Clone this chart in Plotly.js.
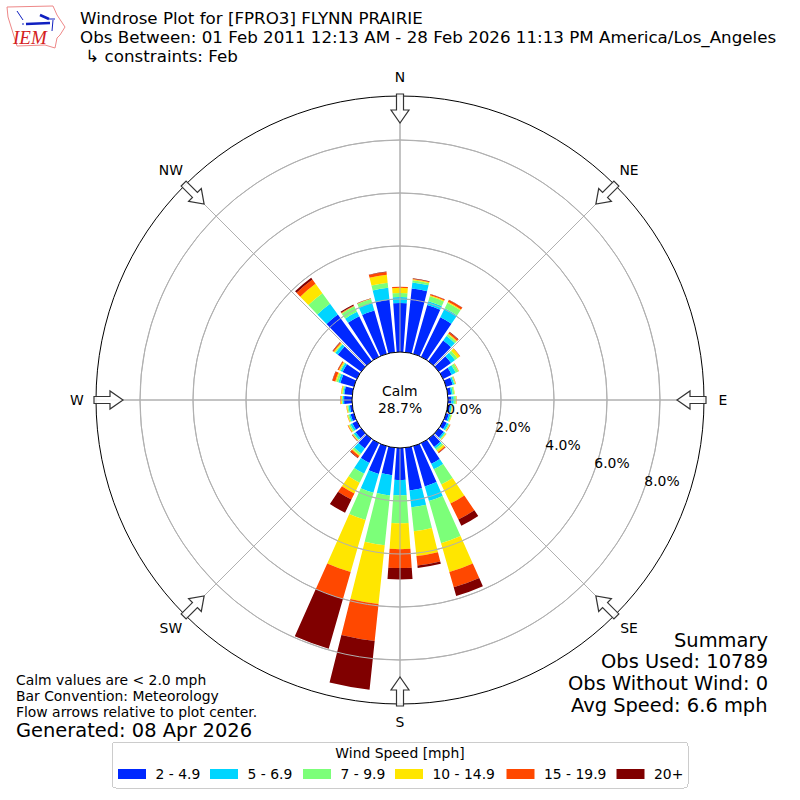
<!DOCTYPE html>
<html><head><meta charset="utf-8">
<script src="https://cdn.plot.ly/plotly-3.0.1.min.js"></script>
<style>html,body{margin:0;padding:0;background:#fff}</style></head>
<body><div id="chart" style="width:800px;height:800px"></div>
<script>
const directions=[0,10,20,30,40,50,60,70,80,90,100,110,120,130,140,150,160,170,180,190,200,210,220,230,240,250,260,270,280,290,300,310,320,330,340,350];
const speedNames=['2 - 4.9','5 - 6.9','7 - 9.9','10 - 14.9','15 - 19.9','20+'];
const speedColors=['#0028ff','#00d5ff','#7cff79','#ffe600','#ff4800','#800000'];
const s2to5=[1.85,2.42,1.92,1.66,.96,.57,.36,.26,.13,.13,.09,.11,.15,.23,.38,.87,1.58,1.62,1.21,1.04,1.09,.83,.45,.26,.19,.13,.09,.30,.30,.53,.60,1.09,2.18,1.70,1.70,1.99];
const s5to7=[.23,.23,.15,.38,.21,.19,.17,.06,.06,.09,.06,.06,.08,.06,.08,.23,.57,.64,.57,.77,.74,.45,.23,.08,.08,.06,.06,.06,.04,.08,.08,.11,.50,.19,.30,.46];
const s7to10=[.15,.08,.19,.23,.08,.11,.11,.04,.06,.08,.02,.04,.04,.04,.08,.64,1.66,.91,1.06,1.89,1.07,.38,.08,.04,.06,.04,.04,.02,.04,.08,.04,.04,.49,.23,.15,.19];
const s10to15=[.19,.04,.04,.04,.04,.11,.02,.02,.02,.02,.02,.02,.02,.02,.08,.79,1.13,.94,.98,2.23,2.04,.45,.04,.02,.04,.03,.03,.04,.04,.04,.04,.04,.44,.02,.01,.30];
const s15to20=[.04,.02,.04,.08,.06,.02,.01,.01,0,.01,0,0,.02,.01,.04,.68,.60,.36,.71,1.40,1.06,.26,.08,.02,.02,.01,.01,.02,.01,.11,.04,.04,.20,.02,.01,.11];
const s20plus=[0,.02,.01,.01,.02,0,0,0,0,0,0,0,0,0,.01,.26,.34,.09,.43,1.85,1.95,.55,.02,.01,0,0,0,0,0,.01,.01,.02,.08,.04,.01,.01];
const speedSeries=[s2to5,s5to7,s7to10,s10to15,s15to20,s20plus];
const radialTicks=[0,2,4,6,8];
const radialLabels=['0.0%','2.0%','4.0%','6.0%','8.0%'];
const compassAngles=[0,45,90,135,180,225,270,315];
const compassLabels=['N','NE','E','SE','S','SW','W','NW'];
const RMAX=256/26.5, GRID='#b0b0b0';
const px=x=>x/800, py=y=>1-y/800;

const traces=speedSeries.map((vals,i)=>({type:'barpolar',name:speedNames[i],theta:directions,r:vals,width:8,
  marker:{color:speedColors[i],line:{width:0}},hoverinfo:'name+r+theta'}));
// grid sits above the bars in the reference
const ringTheta=[];for(let a=0;a<=360;a+=3)ringTheta.push(a);
radialTicks.slice(1).forEach(v=>traces.push({type:'scatterpolar',mode:'lines',r:ringTheta.map(()=>v),theta:ringTheta,
  line:{color:GRID,width:1},hoverinfo:'skip',showlegend:false}));
compassAngles.forEach(a=>traces.push({type:'scatterpolar',mode:'lines',r:[0,RMAX],theta:[a,a],
  line:{color:GRID,width:1},hoverinfo:'skip',showlegend:false}));

function note(text,x,y,size,anchor,extra){
  const off=anchor==='right'?2:(anchor==='center'?0:-2);
  return Object.assign({text,x:px(x+off),y:py(y),xref:'paper',yref:'paper',showarrow:false,
  xanchor:anchor||'left',yanchor:'middle',font:{family:'DejaVu Sans',size:size,color:'#000'},align:anchor||'left'},extra||{});}
const annotations=[
 note('Windrose Plot for [FPRO3] FLYNN PRAIRIE',80,18,16.7),
 note('Obs Between: 01 Feb 2011 12:13 AM - 28 Feb 2026 11:13 PM America/Los_Angeles',80,37.4,16.7),
 note(' ↳ constraints: Feb',80,56,16.7),
 note('Calm',400,391,13.9,'center'),
 note('28.7%',400,408,13.9,'center'),
 note('Calm values are &lt; 2.0 mph',16,680,13.9),
 note('Bar Convention: Meteorology',16,696,13.9),
 note('Flow arrows relative to plot center.',16,712,13.9),
 note('Generated: 08 Apr 2026',16,730,19.45),
 note('Summary',768,640,19.45,'right'),
 note('Obs Used: 10789',768,661,19.45,'right'),
 note('Obs Without Wind: 0',768,683,19.45,'right'),
 note('Avg Speed: 6.6 mph',768,705,19.45,'right'),
 note('<i>IEM</i>',30,38,18,'center',{font:{family:'Liberation Serif',size:19,color:'#d42020'}})
];

function pathOf(pts,close){return pts.map((p,i)=>(i?'L':'M')+px(p[0]).toFixed(5)+','+py(p[1]).toFixed(5)).join(' ')+(close?' Z':'');}
function arrowPts(deg){const t=deg*Math.PI/180,ux=Math.sin(t),uy=-Math.cos(t),vx=Math.cos(t),vy=Math.sin(t);
  const P=(r,w)=>[400+ux*r+vx*w,400+uy*r+vy*w];
  return [P(306,3.5),P(290,3.5),P(290,9),P(277,0),P(290,-9),P(290,-3.5),P(306,-3.5)];}
const shapes=compassAngles.map(a=>({type:'path',xref:'paper',yref:'paper',layer:'above',path:pathOf(arrowPts(a),true),
  line:{color:'#333',width:1.2},fillcolor:'rgba(255,255,255,0.9)'}));
const iowa=[[7,7],[53,6],[57,15],[65,27],[60,35],[57,38],[55,48],[45,45],[17,46],[13,33],[8,17]];
shapes.push({type:'path',xref:'paper',yref:'paper',path:pathOf(iowa,true),line:{color:'#e88',width:1}});
[[[26,24],[50,23]],[[40,15],[49,19]],[[49,19],[55,19]],[[53,20],[52,31]],[[17,11],[23,20]],[[22,24],[24,24]]].forEach((p,i)=>
  shapes.push({type:'path',xref:'paper',yref:'paper',path:pathOf(p,false),line:{color:'#1020c0',width:(i===0||i===1)?2.5:1}}));

const layout={width:800,height:800,margin:{l:0,r:0,t:0,b:0},paper_bgcolor:'#fff',barmode:'stack',showlegend:true,
 font:{family:'DejaVu Sans',color:'#000'},
 polar:{domain:{x:[96/800,704/800],y:[96/800,704/800]},hole:48/304,barmode:'stack',bgcolor:'#fff',
  radialaxis:{range:[0,RMAX],angle:-20,tickangle:-20,tickvals:radialTicks,ticktext:radialLabels,showline:false,ticks:'',
    gridcolor:GRID,gridwidth:1,tickfont:{size:13.9,family:'DejaVu Sans',color:'#000'}},
  angularaxis:{direction:'clockwise',rotation:90,tickvals:compassAngles,ticktext:compassLabels,ticks:'outside',ticklen:6,tickcolor:'rgba(0,0,0,0)',
    gridcolor:GRID,gridwidth:1,linecolor:'#000',linewidth:1,showline:true,tickfont:{size:13.9,family:'DejaVu Sans',color:'#000'}}},
 legend:{orientation:'h',x:0.5,xanchor:'center',y:12/800,yanchor:'bottom',bordercolor:'#ccc',borderwidth:1,bgcolor:'#fff',
   font:{size:13.9,family:'DejaVu Sans',color:'#000'},title:{text:'Wind Speed [mph]',side:'top center',font:{size:13.9,family:'DejaVu Sans',color:'#000'}},traceorder:'normal'},
 annotations,shapes};

// label placement the library cannot express: move its own text nodes to the reference's spots
const compassSpots={N:[400,77],NE:[629,170],E:[723,400],SE:[629,628],S:[400,722],SW:[171,628],W:[77,400],NW:[171,170]};
const radialSpots={'0.0%':[464,409],'2.0%':[513,427],'4.0%':[563,445],'6.0%':[612,463],'8.0%':[662,481]};
function moveCenter(el,cx,cy){
  const b=el.getBoundingClientRect();
  const dx=cx-(b.left+b.width/2),dy=cy-(b.top+b.height/2);
  // the vector is in screen units; the parent group may be rotated, so convert it
  const m=el.parentNode.getScreenCTM().inverse();
  const lx=m.a*dx+m.c*dy, ly=m.b*dx+m.d*dy;
  el.setAttribute('transform','translate('+lx+','+ly+') '+(el.getAttribute('transform')||''));}
const legendSwatchX=[3.5,95.5,188.5,280.5,392,502];
Plotly.newPlot('chart',traces,layout,{displayModeBar:false,staticPlot:true}).then(gd=>{
  gd.querySelectorAll('.polarsublayer.radial-axis text').forEach(t=>{const s=radialSpots[t.textContent];if(s)moveCenter(t,s[0],s[1]);});
  gd.querySelectorAll('.polarsublayer.angular-axis text').forEach(t=>{const s=compassSpots[t.textContent];if(s)moveCenter(t,s[0],s[1]);});
  const leg=gd.querySelector('.legend');
  leg.setAttribute('transform','translate(112,742)');
  leg.querySelectorAll('rect.bg').forEach(r=>{r.setAttribute('width',576);r.setAttribute('height',46);r.setAttribute('x',0);r.setAttribute('y',0);r.setAttribute('rx',4);r.setAttribute('ry',4);});
  const sb=leg.querySelector('.scrollbox');
  if(sb){sb.removeAttribute('clip-path');sb.setAttribute('transform','translate(0,0)');}
  leg.querySelectorAll('.traces').forEach((g,i)=>{
    g.setAttribute('transform','translate('+legendSwatchX[i]+',32)');
    g.querySelectorAll('.legendpoints path').forEach(p=>{p.setAttribute('d','M-17.5,5h28v-10h-28z');});
  });
  const title=leg.querySelector('.legendtitletext');
  if(title)moveCenter(title,400,753);
});
</script></body></html>
